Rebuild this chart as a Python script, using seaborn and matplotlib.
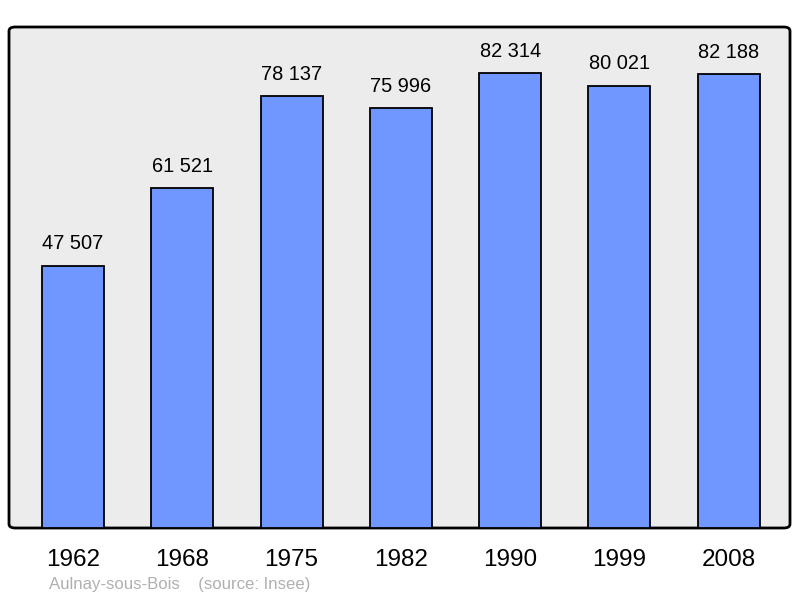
import matplotlib
matplotlib.use("Agg")
import matplotlib.pyplot as plt
from matplotlib.patches import FancyBboxPatch
import seaborn as sns
import pandas as pd

years = ["1962", "1968", "1975", "1982", "1990", "1999", "2008"]
population = [47507, 61521, 78137, 75996, 82314, 80021, 82188]
labels = ["47 507", "61 521", "78 137", "75 996", "82 314", "80 021", "82 188"]
caption = "Aulnay-sous-Bois    (source: Insee)"

sns.set_style("white")
plt.rcParams["font.family"] = ["Liberation Sans", "DejaVu Sans"]

df = pd.DataFrame({"year": years, "pop": population})

fig = plt.figure(figsize=(8, 5.98), dpi=100)
ax = fig.add_axes([9/800, 70/598, 781/800, 501/598])
sns.barplot(data=df, x="year", y="pop", color="#7096ff", saturation=1,
            width=0.567, edgecolor="black", linewidth=1.3, ax=ax)

ax.set_xlim(-0.585, 6.56)
ax.set_ylim(0, 90700)
ax.patch.set_visible(False)
for s in ax.spines.values():
    s.set_visible(False)
frame = FancyBboxPatch((0, 0), 1, 1, boxstyle="round,pad=0,rounding_size=0.008",
                       transform=ax.transAxes, facecolor="#ececec",
                       edgecolor="black", linewidth=2, zorder=0.5, clip_on=False)
ax.add_patch(frame)
for p in ax.patches:
    if p is not frame:
        p.set_zorder(2)

for i, (v, t) in enumerate(zip(population, labels)):
    ax.annotate(t, (i, v), xytext=(0, 9), textcoords="offset points",
                ha="center", va="bottom", fontsize=14.4, color="black")

ax.set_xlabel("")
ax.set_ylabel("")
ax.set_yticks([])
ax.tick_params(axis="x", length=0, pad=15, labelsize=17.5, colors="black")

fig.text(49/800, 1 - 585/598, caption, fontsize=12.1, color="#b0b0b0",
         ha="left", va="center")

fig.savefig("out.png", dpi=100)
